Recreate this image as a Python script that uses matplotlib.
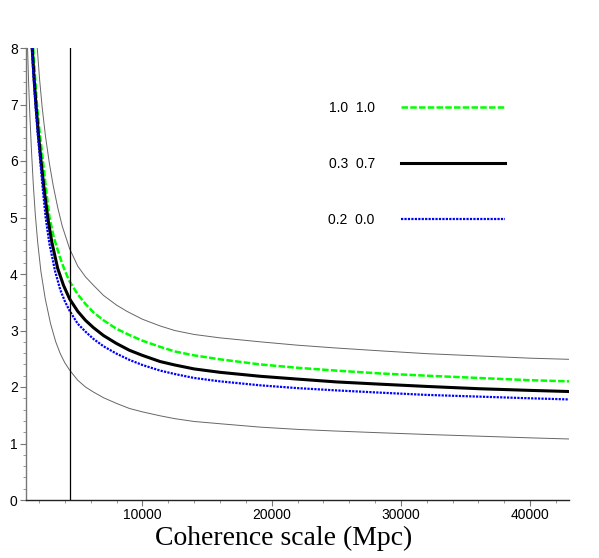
import matplotlib
matplotlib.use("Agg")
import matplotlib.pyplot as plt
from matplotlib.ticker import MultipleLocator

# ---- data ----
x_black = [1480, 1620, 1770, 1950, 2160, 2400, 2680, 3000, 3450, 3900, 4370, 5000, 5600, 6220,
           7000, 8000, 9000, 10000, 11380, 12500, 14000, 16000, 19100, 22000, 25000, 28400,
           32000, 36000, 40000, 43000]
y_black = [8.00, 7.48, 7.00, 6.50, 6.00, 5.50, 5.00, 4.56, 4.10, 3.80, 3.56, 3.34, 3.18, 3.05,
           2.91, 2.77, 2.65, 2.56, 2.45, 2.39, 2.32, 2.26, 2.19, 2.14, 2.09, 2.05,
           2.01, 1.97, 1.94, 1.92]

x_green = [1560, 1700, 1850, 2060, 2310, 2550, 2820, 3150, 3650, 4000, 4370, 5000, 5600, 6220,
           7000, 8000, 9000, 10000, 11380, 12500, 14000, 16000, 19100, 22000, 25000, 28400,
           32000, 36000, 40000, 43000]
y_green = [8.00, 7.50, 7.00, 6.50, 6.00, 5.50, 5.00, 4.65, 4.28, 4.06, 3.87, 3.64, 3.47, 3.32,
           3.18, 3.03, 2.92, 2.82, 2.71, 2.63, 2.56, 2.49, 2.40, 2.34, 2.29, 2.24,
           2.20, 2.16, 2.12, 2.10]

x_blue = [1450, 1580, 1730, 1900, 2100, 2300, 2520, 2800, 3250, 3650, 4000, 4370, 5000, 5600,
          6220, 7000, 8000, 9000, 10000, 11380, 12500, 14000, 16000, 19100, 22000, 25000,
          28400, 32000, 36000, 40000, 43000]
y_blue = [8.00, 7.50, 7.00, 6.50, 6.00, 5.50, 5.00, 4.55, 4.05, 3.72, 3.52, 3.35, 3.12, 2.98,
          2.85, 2.72, 2.59, 2.48, 2.39, 2.29, 2.23, 2.16, 2.10, 2.03, 1.98, 1.94,
          1.90, 1.86, 1.83, 1.80, 1.78]

x_upper = [1870, 2050, 2250, 2500, 2800, 3100, 3450, 3800, 4370, 5000, 5600, 6220, 7000, 8000,
           8800, 10000, 11380, 12500, 14000, 16000, 19100, 22000, 25000, 28400, 32000, 36000,
           40000, 43000]
y_upper = [8.00, 7.45, 6.95, 6.45, 5.97, 5.57, 5.18, 4.85, 4.45, 4.14, 3.95, 3.80, 3.62, 3.45,
           3.34, 3.20, 3.08, 3.00, 2.93, 2.87, 2.80, 2.74, 2.69, 2.64, 2.59, 2.55,
           2.51, 2.49]

x_lower = [1120, 1200, 1300, 1420, 1560, 1720, 1900, 2150, 2490, 2900, 3300, 3650, 4000, 4370,
           5000, 5600, 6220, 7000, 8000, 9000, 10000, 11380, 12500, 14000, 16000, 19100,
           22000, 25000, 28400, 32000, 36000, 40000, 43000]
y_lower = [8.00, 7.40, 6.80, 6.20, 5.60, 5.05, 4.57, 4.05, 3.56, 3.12, 2.80, 2.59, 2.43, 2.30,
           2.12, 2.00, 1.91, 1.81, 1.71, 1.62, 1.56, 1.49, 1.44, 1.39, 1.35, 1.29,
           1.25, 1.22, 1.19, 1.16, 1.13, 1.10, 1.08]

x_vline = 4380

legend_labels = ["1.0  1.0", "0.3  0.7", "0.2  0.0"]

x_range = (1000, 43000)
y_range = (0, 8)
x_label = "Coherence scale (Mpc)"

# ---- figure ----
fig = plt.figure(figsize=(5.99, 5.58), dpi=100)
ax = fig.add_axes([26 / 599, 1 - 500 / 558, (569 - 26) / 599, (500 - 48) / 558])

ax.plot(x_upper, y_upper, color="#666666", lw=0.7, zorder=1)
ax.plot(x_lower, y_lower, color="#666666", lw=0.7, zorder=1)
l_green, = ax.plot(x_green, y_green, color="#00ff00", lw=1.8,
                   linestyle=(0, (2.6, 0.9)), zorder=2)
l_black, = ax.plot(x_black, y_black, color="black", lw=2.2, zorder=3)
l_blue, = ax.plot(x_blue, y_blue, color="#0000ff", lw=1.6,
                  linestyle=(0, (1.0, 0.55)), zorder=4)
ax.axvline(x_vline, ymin=0, ymax=1, color="black", lw=0.9, zorder=5)

ax.set_xlim(*x_range)
ax.set_ylim(*y_range)

for s in ["top", "right"]:
    ax.spines[s].set_visible(False)
ax.spines["left"].set_color("#777777")
ax.spines["bottom"].set_color("#222222")
ax.spines["left"].set_linewidth(1.0)
ax.spines["bottom"].set_linewidth(1.0)

ax.xaxis.set_major_locator(MultipleLocator(10000))
ax.xaxis.set_minor_locator(MultipleLocator(2000))
ax.yaxis.set_major_locator(MultipleLocator(1))
ax.yaxis.set_minor_locator(MultipleLocator(0.2))
ax.tick_params(axis="both", which="major", direction="out", length=4, width=0.8,
               color="#777777", labelsize=10, pad=2)
ax.tick_params(axis="both", which="minor", direction="out", length=2.5, width=0.6,
               color="#888888")
for lab in ax.get_xticklabels() + ax.get_yticklabels():
    lab.set_fontfamily("Liberation Sans")

fig.text(284 / 599, 1 - 538 / 558, x_label, family="Liberation Serif",
         fontsize=20, ha="center", va="center")

leg = ax.legend([l_green, l_black, l_blue], legend_labels, loc="upper left",
                bbox_to_anchor=((316 - 26) / 543, (500 - 88) / 452),
                markerfirst=False, frameon=False, handlelength=7.5,
                handletextpad=1.9, labelspacing=3.05,
                prop={"family": "Liberation Sans", "size": 10})

fig.savefig("out.png", dpi=100)
